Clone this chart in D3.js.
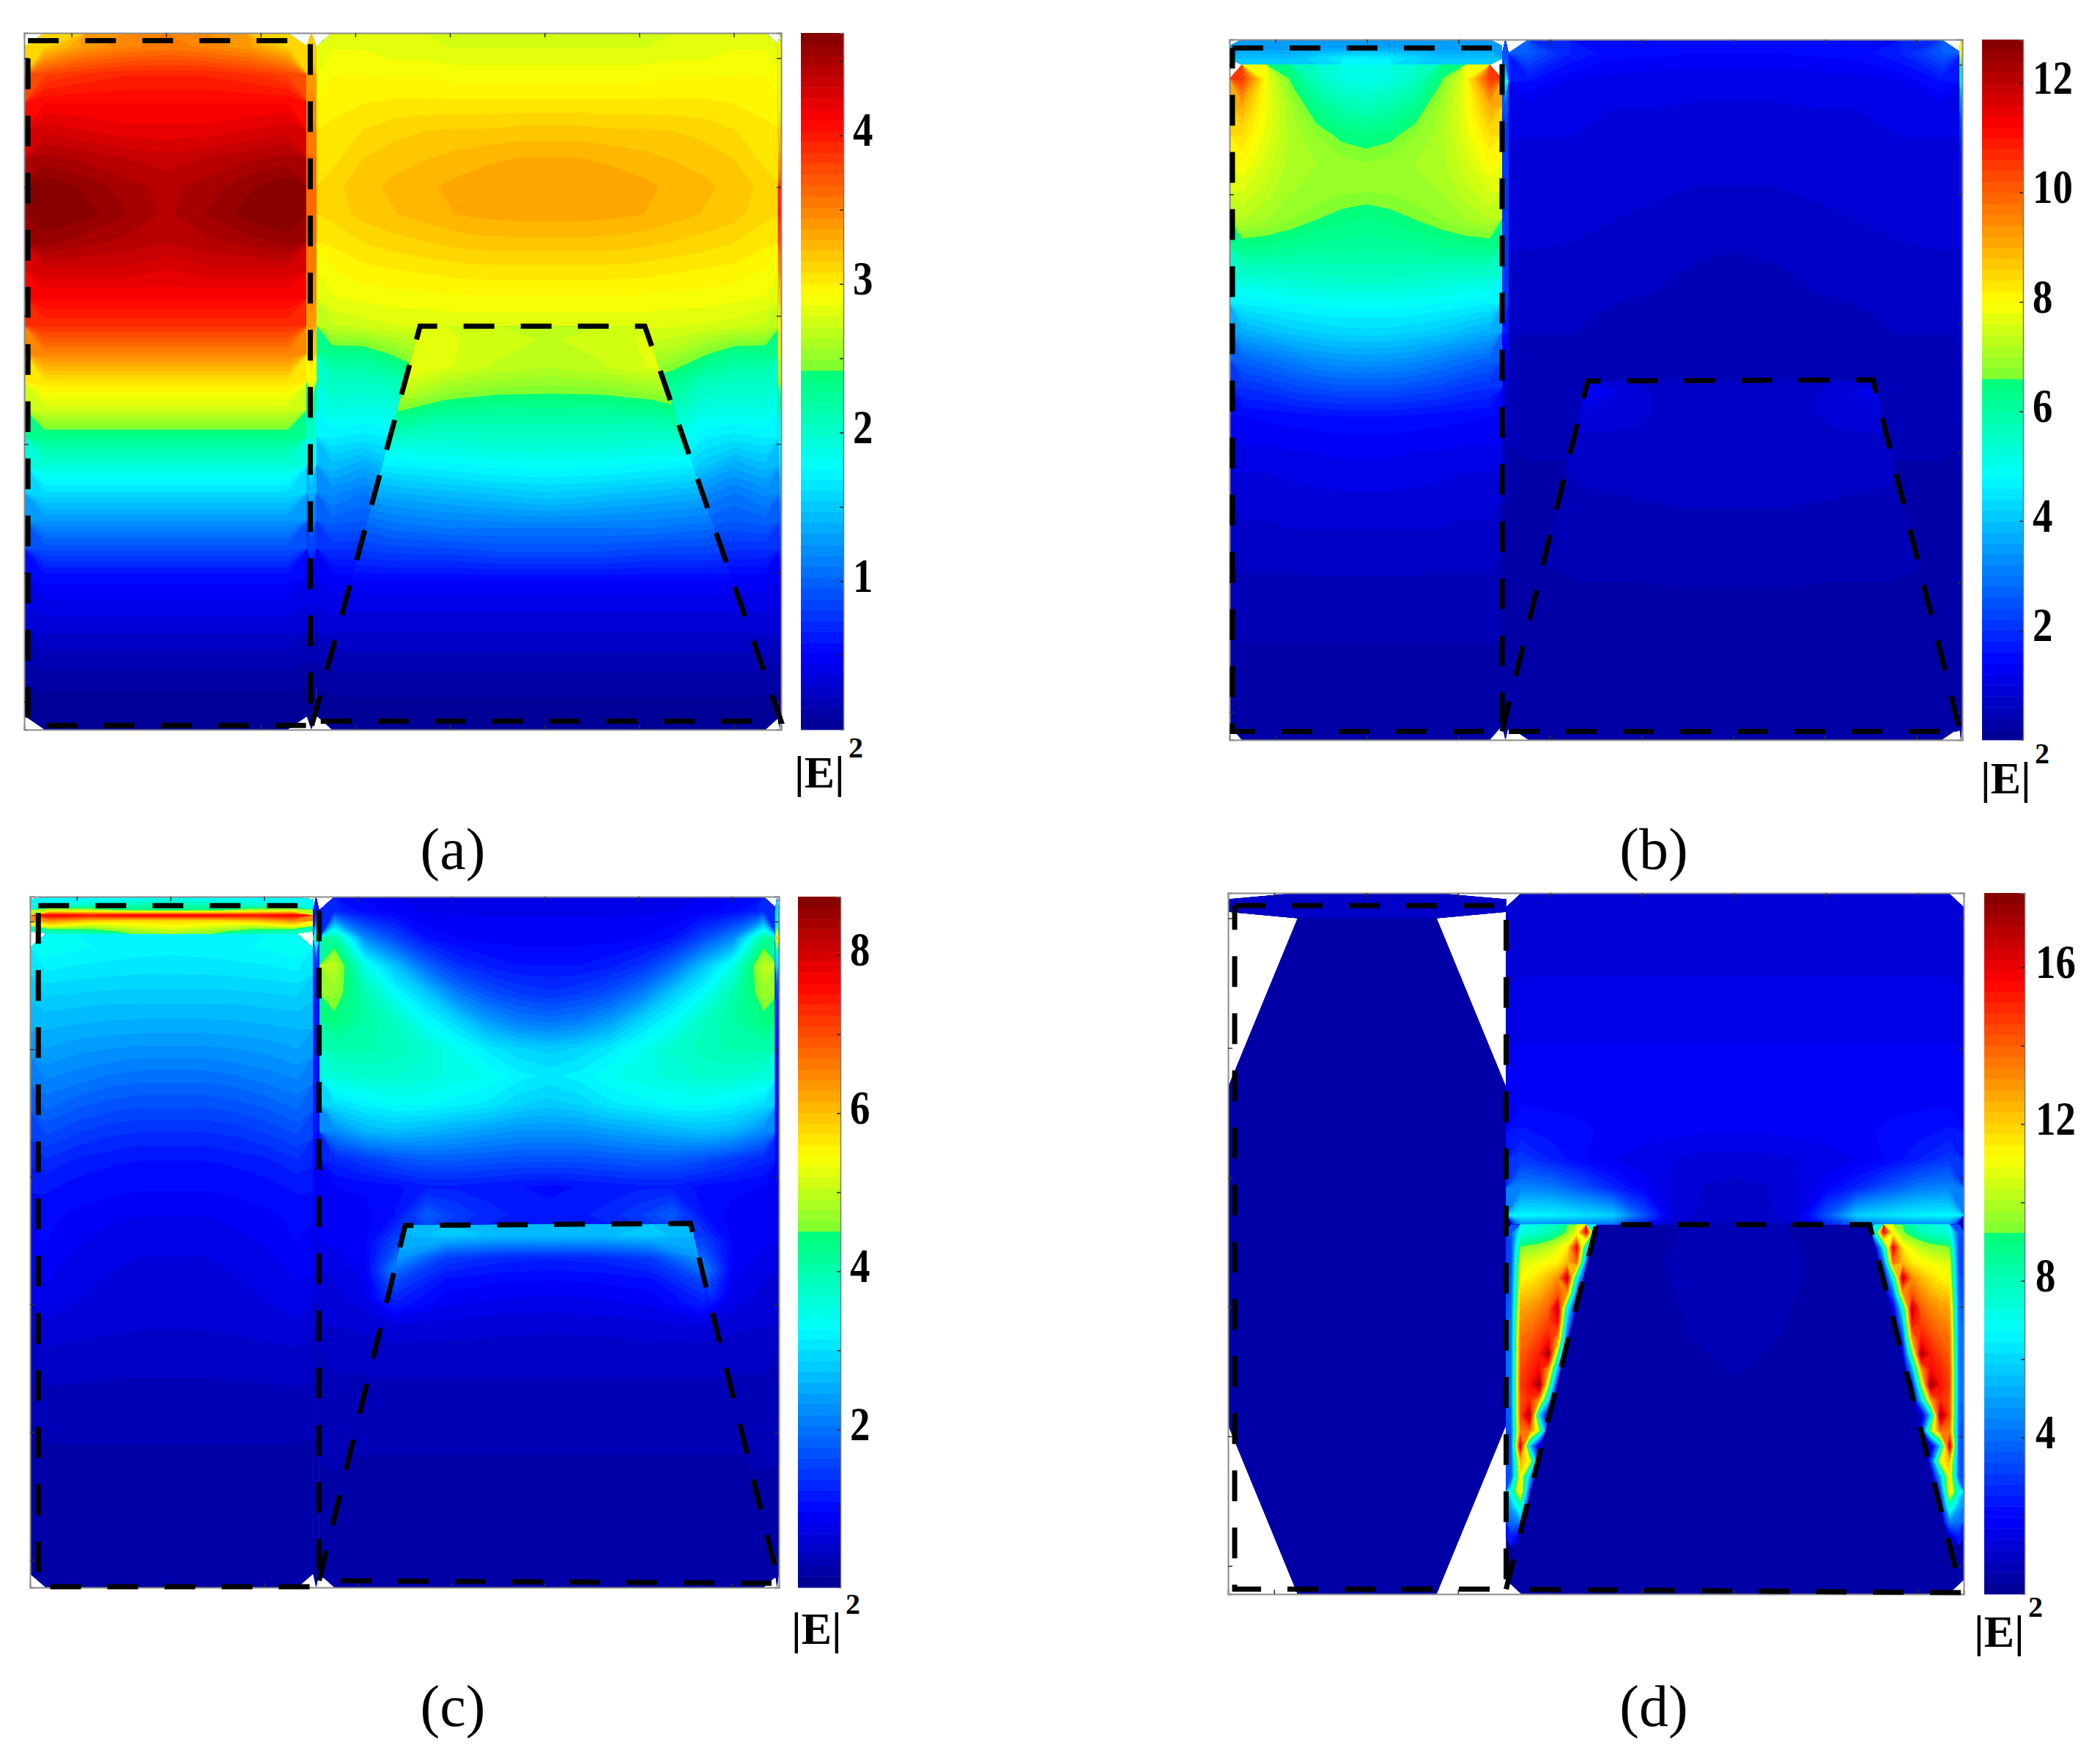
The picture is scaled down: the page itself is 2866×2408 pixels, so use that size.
<!DOCTYPE html>
<html>
<head>
<meta charset="utf-8">
<script src="https://d3js.org/d3.v7.min.js"></script>
<style>
  body { margin: 0; background: #fff; }
  text { font-family: "Liberation Serif", serif; }
</style>
</head>
<body>
<div id="chart"></div>
<script>
// |E|^2, row by row, top to bottom. Half of each symmetric field is kept.
const leftA = [[3.15,3.4,3.5,3.55],[3.8,3.9,3.95,3.95],[4.1,4.1,4.1,4.1],[4.3,4.25,4.2,4.2],[4.5,4.45,4.4,4.35],[4.68,4.6,4.5,4.45],[4.69,4.65,4.55,4.45],[4.58,4.5,4.45,4.4],[4.3,4.3,4.3,4.25],[4.12,4.12,4.12,4.12],[3.9,3.9,3.9,3.9],[3.5,3.5,3.5,3.5],[3.05,3.05,3.05,3.05],[2.75,2.75,2.75,2.75],[2.3,2.3,2.3,2.3],[1.95,1.95,1.95,1.95],[1.6,1.6,1.6,1.6],[1.25,1.25,1.25,1.25],[0.9,0.9,0.9,0.9],[0.55,0.55,0.55,0.55],[0.42,0.42,0.42,0.42],[0.3,0.3,0.3,0.3],[0.18,0.18,0.18,0.18],[0.08,0.08,0.08,0.08],[0.03,0.03,0.03,0.03]];
const outerA = [[2.85,2.85,2.8,2.8,2.78,2.78,2.78,2.78],[2.93,2.93,2.92,2.92,2.9,2.9,2.9,2.9],[2.98,3,3.02,3.02,3.02,3.02,3.02,3.02],[3.02,3.08,3.12,3.15,3.16,3.16,3.18,3.18],[3.05,3.15,3.2,3.22,3.25,3.28,3.3,3.3],[3.12,3.2,3.24,3.28,3.32,3.35,3.36,3.36],[3.1,3.18,3.22,3.26,3.3,3.32,3.33,3.33],[3.02,3.08,3.12,3.15,3.18,3.2,3.2,3.2],[2.93,2.98,3,3.02,3.04,3.05,3.05,3.05],[2.85,2.88,2.9,2.9,2.92,2.92,2.92,2.92],[2.7,2.75,2.78,2.8,2.8,2.8,2.8,2.8],[2.3,2.3,2.45,2.6,2.65,2.65,2.65,2.65],[2.05,2.05,2.1,2.3,2.4,2.4,2.4,2.4],[1.9,1.88,1.9,2.1,2.2,2.2,2.2,2.2],[1.7,1.65,1.7,1.9,2,2,2,2],[1.45,1.35,1.5,1.7,1.7,1.7,1.7,1.7],[1.2,1.1,1.2,1.4,1.4,1.4,1.4,1.4],[1,0.95,1,1.1,1.1,1.1,1.1,1.1],[0.75,0.75,0.8,0.85,0.85,0.85,0.85,0.85],[0.5,0.5,0.5,0.5,0.5,0.5,0.5,0.5],[0.4,0.4,0.4,0.4,0.4,0.4,0.4,0.4],[0.3,0.3,0.3,0.3,0.3,0.3,0.3,0.3],[0.2,0.2,0.2,0.2,0.2,0.2,0.2,0.2],[0.1,0.1,0.1,0.1,0.1,0.1,0.1,0.1],[0.04,0.04,0.04,0.04,0.04,0.04,0.04,0.04]];
const innerA = [[2.5,2.8,2.8,2.75,2.7],[2.4,2.9,2.8,2.7,2.65],[2.2,2.7,2.5,2.43,2.42],[2.1,2.3,2.15,2.15,2.15],[1.85,1.9,1.9,1.95,1.95],[1.5,1.6,1.65,1.7,1.72],[1.2,1.3,1.35,1.4,1.45],[0.95,1.05,1.1,1.1,1.1],[0.75,0.8,0.8,0.85,0.85],[0.5,0.5,0.5,0.5,0.5],[0.38,0.38,0.38,0.38,0.38],[0.28,0.28,0.28,0.28,0.28],[0.18,0.18,0.18,0.18,0.18],[0.09,0.09,0.09,0.09,0.09],[0.03,0.03,0.03,0.03,0.03]];
const wallA = [[3.2],[3.4],[3.5],[3.55],[3.6],[3.65],[3.65],[3.6],[3.55],[3.5],[3.4],[3.2],[2.9],[2.3],[2],[1.8],[1.4],[1.1],[0.85],[0.5],[0.4],[0.3],[0.18],[0.08],[0.03]];
const edgeA = [[3],[3],[3],[3.2],[3.4],[3.9],[4],[3.8],[3.5],[3.2],[3],[2.9],[2.7],[2.2],[1.9],[1.6],[1.3],[1],[0.8],[0.5],[0.4],[0.3],[0.18],[0.08],[0.03]];

const capB = [[3.5,3.4,3.4,3.4,3.4,3.4],[4,4,4,4.3,4.6,4.7]];
const leftB = [[10.5,7.8,6.5,5.6,5.2,5],[9,7.8,7,6.3,5.9,5.7],[8.4,7.7,7.1,6.8,6.5,6.4],[8,7.5,7.1,7,6.9,6.8],[7.6,7.3,7,6.95,6.85,6.8],[7.2,7,6.8,6.6,6.45,6.35],[6.3,6.3,6.2,6.1,6.1,6.05],[5.4,5.4,5.5,5.55,5.6,5.6],[4.6,4.7,4.8,4.85,4.9,4.9],[3.7,3.9,4.1,4.2,4.3,4.3],[2.7,2.9,3.1,3.3,3.4,3.45],[2,2.1,2.3,2.4,2.5,2.5],[1.4,1.45,1.5,1.55,1.6,1.6],[1.2,1.2,1.25,1.25,1.3,1.3],[1,1,1.05,1.05,1.1,1.1],[0.9,0.9,0.9,0.95,0.95,0.95],[0.75,0.75,0.8,0.8,0.8,0.8],[0.65,0.65,0.65,0.7,0.7,0.7],[0.55,0.55,0.55,0.55,0.55,0.55],[0.45,0.45,0.45,0.45,0.45,0.45],[0.4,0.4,0.4,0.4,0.4,0.4],[0.35,0.35,0.35,0.35,0.35,0.35],[0.3,0.3,0.3,0.3,0.3,0.3],[0.25,0.25,0.25,0.25,0.25,0.25]];
const outerB = [[2.6,1.8,1.5,1.45,1.4,1.4],[1.6,1.2,1.1,1.05,1.05,1.05],[1.1,1.05,1,1,0.98,0.98],[1,1,0.95,0.95,0.92,0.92],[0.95,0.92,0.9,0.88,0.85,0.85],[0.9,0.88,0.85,0.82,0.78,0.78],[0.85,0.85,0.8,0.75,0.72,0.7],[0.8,0.78,0.72,0.68,0.62,0.6],[0.7,0.7,0.65,0.62,0.58,0.58],[0.65,0.65,0.6,0.58,0.55,0.55],[0.6,0.6,0.58,0.55,0.55,0.55],[0.58,0.58,0.56,0.55,0.55,0.55],[0.55,0.52,0.52,0.52,0.52,0.52],[0.48,0.48,0.48,0.48,0.48,0.48],[0.42,0.42,0.42,0.42,0.42,0.42],[0.38,0.38,0.38,0.38,0.38,0.38],[0.36,0.36,0.36,0.36,0.36,0.36],[0.34,0.34,0.34,0.34,0.34,0.34],[0.32,0.32,0.32,0.32,0.32,0.32],[0.3,0.3,0.3,0.3,0.3,0.3],[0.29,0.29,0.29,0.29,0.29,0.29],[0.28,0.28,0.28,0.28,0.28,0.28],[0.27,0.27,0.27,0.27,0.27,0.27],[0.26,0.26,0.26,0.26,0.26,0.26],[0.25,0.25,0.25,0.25,0.25,0.25]];
const innerB = [[0.75,1.5,0.85,0.7,0.7],[0.7,1,0.85,0.72,0.7],[0.65,0.8,0.78,0.72,0.72],[0.6,0.68,0.7,0.72,0.72],[0.55,0.62,0.66,0.68,0.68],[0.5,0.58,0.6,0.62,0.62],[0.46,0.52,0.56,0.58,0.58],[0.42,0.48,0.5,0.52,0.52],[0.4,0.44,0.46,0.48,0.48],[0.38,0.4,0.4,0.42,0.42],[0.34,0.34,0.34,0.34,0.34],[0.32,0.32,0.32,0.32,0.32],[0.3,0.3,0.3,0.3,0.3],[0.28,0.28,0.28,0.28,0.28],[0.27,0.27,0.27,0.27,0.27],[0.26,0.26,0.26,0.26,0.26],[0.25,0.25,0.25,0.25,0.25]];
const wallB = [[2.4],[4.8],[2.5],[2.1],[2],[2],[2],[2],[2],[2],[1.6],[1.2],[0.9],[0.7],[0.55],[0.45],[0.4],[0.36],[0.34],[0.32],[0.3],[0.29],[0.28],[0.26],[0.25]];
const edgeB = [[8],[5],[3],[2],[1.7],[1.6],[1.5],[1.4],[1.3],[1.2],[1.1],[0.9],[0.7],[0.6],[0.5],[0.4],[0.36],[0.34],[0.32],[0.3],[0.29],[0.28],[0.27],[0.26],[0.25]];

const capC = [[3.2,3.3,3.4,3.5],[3.5,3.7,3.9,4],[5,4.8,4.4,4.4],[7.8,7.6,7.8,7.8],[6.5,6,5.8,5.8],[5.5,5,5.3,5.5],[3.9,4.2,4.7,5]];
const leftC = [[3.4,3.3,3.25,3.22,3.2],[3.1,3.05,3.02,3,3],[2.8,2.78,2.75,2.75,2.75],[2.6,2.55,2.52,2.5,2.5],[2.4,2.3,2.25,2.2,2.2],[2.15,2.05,1.95,1.9,1.9],[1.9,1.75,1.65,1.6,1.6],[1.6,1.45,1.35,1.3,1.3],[1.3,1.15,1.1,1.05,1.05],[1.1,1.02,0.98,0.95,0.95],[1,0.9,0.85,0.8,0.8],[0.95,0.82,0.75,0.7,0.7],[0.85,0.75,0.68,0.65,0.65],[0.75,0.68,0.62,0.6,0.6],[0.65,0.6,0.57,0.55,0.55],[0.5,0.48,0.46,0.45,0.45],[0.42,0.41,0.4,0.4,0.4],[0.32,0.31,0.3,0.3,0.3],[0.28,0.28,0.28,0.28,0.28],[0.25,0.25,0.25,0.25,0.25],[0.22,0.22,0.22,0.22,0.22],[0.2,0.2,0.2,0.2,0.2],[0.18,0.18,0.18,0.18,0.18],[0.15,0.15,0.15,0.15,0.15]];
const outerC = [[1.3,1,0.9,0.8,0.8,0.8,0.8,0.8],[4.2,2.2,1.6,1.1,0.95,0.9,0.9,0.9],[5,3.5,2.7,1.9,1.4,1.2,1.1,1.1],[4.7,4,3.3,2.8,2.1,1.7,1.5,1.4],[4.4,4.1,3.8,3.3,2.9,2.4,2.1,2],[4,4,3.9,3.7,3.4,3.1,2.9,2.8],[3.6,3.7,3.7,3.6,3.5,3.4,3.2,3.1],[3,3.2,3.3,3.3,3.2,3.1,2.9,2.8],[2.2,2.6,2.7,2.6,2.5,2.4,2.3,2.3],[1.3,1.5,1.7,1.8,1.8,1.75,1.7,1.7],[0.95,1,1.05,1.2,1.2,1.15,1.1,1.05],[0.9,0.9,1.1,1.8,1.5,1.3,1.2,1.15],[0.85,0.95,1.6,1.4,1.2,1.1,1.1,1.1],[0.7,0.9,2.2,1.2,1,1,1,1],[0.65,0.75,1.6,0.9,0.8,0.8,0.8,0.8],[0.55,0.6,0.7,0.6,0.6,0.6,0.6,0.6],[0.45,0.45,0.45,0.45,0.45,0.45,0.45,0.45],[0.4,0.4,0.4,0.4,0.4,0.4,0.4,0.4],[0.35,0.35,0.35,0.35,0.35,0.35,0.35,0.35],[0.3,0.3,0.3,0.3,0.3,0.3,0.3,0.3],[0.28,0.28,0.28,0.28,0.28,0.28,0.28,0.28],[0.25,0.25,0.25,0.25,0.25,0.25,0.25,0.25],[0.22,0.22,0.22,0.22,0.22,0.22,0.22,0.22],[0.2,0.2,0.2,0.2,0.2,0.2,0.2,0.2],[0.18,0.18,0.18,0.18,0.18,0.18,0.18,0.18]];
const innerC = [[0.9,2.6,2.8,2.7,2.7],[0.8,2.4,1.5,1.3,1.25],[0.75,1.6,1.05,0.98,0.95],[0.65,1.2,0.85,0.78,0.75],[0.55,0.65,0.62,0.6,0.58],[0.5,0.5,0.5,0.48,0.48],[0.42,0.42,0.42,0.42,0.42],[0.38,0.38,0.38,0.38,0.38],[0.34,0.34,0.34,0.34,0.34],[0.3,0.3,0.3,0.3,0.3],[0.26,0.26,0.26,0.26,0.26],[0.24,0.24,0.24,0.24,0.24],[0.22,0.22,0.22,0.22,0.22],[0.2,0.2,0.2,0.2,0.2],[0.19,0.19,0.19,0.19,0.19],[0.18,0.18,0.18,0.18,0.18]];
const wallC = [[1.2],[4],[1.4],[1.2],[1.2],[1.1],[1.1],[1.1],[1.1],[1],[0.9],[0.9],[0.8],[0.7],[0.6],[0.45],[0.4],[0.35],[0.3],[0.28],[0.25],[0.22],[0.2],[0.18],[0.18]];
const edgeC = [[3],[6],[3],[1.6],[1.2],[1],[1],[1],[1],[1],[0.95],[0.9],[0.85],[0.7],[0.65],[0.55],[0.45],[0.4],[0.35],[0.3],[0.28],[0.25],[0.22],[0.2],[0.18]];

const capD = [[1.1,1.1],[1,1]];
const leftD = [[0.42,0.42],[0.42,0.42]];
const outerD = [[1.3,1.3,1.3,1.3,1.3,1.3,1.3,1.3],[1.2,1.2,1.2,1.2,1.2,1.2,1.2,1.2],[1.3,1.3,1.3,1.3,1.3,1.3,1.3,1.3],[1.5,1.5,1.5,1.5,1.5,1.5,1.5,1.5],[1.6,1.6,1.6,1.6,1.6,1.6,1.6,1.6],[1.7,1.7,1.7,1.7,1.7,1.7,1.7,1.7],[1.8,1.8,1.8,1.8,1.8,1.8,1.8,1.8],[1.95,1.9,1.9,1.85,1.85,1.8,1.75,1.75],[2.3,2.1,2,1.9,1.85,1.8,1.7,1.7],[3,2.5,2,1.7,1.5,1.4,1.3,1.3],[4.4,4.2,3.5,2.6,1.9,1.3,1.1,1],[6.6,6.5,6.2,5.8,3.5,1.4,1,0.9],[0.5,0.5,0.5,0.5,0.5,0.5,0.5,0.5],[0.5,0.5,0.5,0.5,0.5,0.5,0.5,0.5],[0.5,0.5,0.5,0.5,0.5,0.5,0.5,0.5],[0.5,0.5,0.5,0.5,0.5,0.5,0.5,0.5],[0.5,0.5,0.5,0.5,0.5,0.5,0.5,0.5],[0.5,0.5,0.5,0.5,0.5,0.5,0.5,0.5],[0.5,0.5,0.5,0.5,0.5,0.5,0.5,0.5],[0.5,0.5,0.5,0.5,0.5,0.5,0.5,0.5],[0.5,0.5,0.5,0.5,0.5,0.5,0.5,0.5],[0.5,0.5,0.5,0.5,0.5,0.5,0.5,0.5],[0.5,0.5,0.5,0.5,0.5,0.5,0.5,0.5],[0.5,0.5,0.5,0.5,0.5,0.5,0.5,0.5],[0.5,0.5,0.5,0.5,0.5,0.5,0.5,0.5]];
const hotD = [[3.5,7.2,7.4,7.6,8,8.6,9.4,11,16,7],[3.2,9.4,9.6,9.8,10.2,10.8,11.5,16,7,0.8],[3.2,10.6,10.8,11,11.2,11.5,12.5,14,4,0.6],[3.4,11.2,11.4,11.8,12.4,13.2,16.8,7,1.5,0.5],[3.6,12,12.2,12.6,13.2,14.2,13,4,0.8,0.5],[3.8,12.8,13,13.4,14,16.8,7,1.5,0.5,0.5],[4,13.2,13.5,14,14.6,15.5,5,0.8,0.5,0.5],[4,13.8,14,14.6,15.4,13,3,0.6,0.5,0.5],[4,14,14.6,15.2,17.6,9,1.5,0.5,0.5,0.5],[4,14.4,15,15.6,13,5,0.8,0.5,0.5,0.5],[4,14.6,15.4,17.8,10,2,0.5,0.5,0.5,0.5],[4,14.4,15,13,6,1,0.5,0.5,0.5,0.5],[3.8,14.5,17.4,6,1,0.5,0.5,0.5,0.5,0.5],[3.6,13.6,14,10,2.5,0.6,0.5,0.5,0.5,0.5],[3.4,16.8,6,1,0.5,0.5,0.5,0.5,0.5,0.5],[3.4,12.6,11,3,0.6,0.5,0.5,0.5,0.5,0.5],[3.4,11.6,5.5,1,0.5,0.5,0.5,0.5,0.5,0.5],[7,12,3,0.6,0.5,0.5,0.5,0.5,0.5,0.5],[5,8,1.5,0.5,0.5,0.5,0.5,0.5,0.5,0.5],[4,4.5,0.8,0.5,0.5,0.5,0.5,0.5,0.5,0.5],[2.5,1.2,0.5,0.5,0.5,0.5,0.5,0.5,0.5,0.5]];
const innerD = [[0.5,0.5,0.5,0.6,0.8],[0.5,0.5,0.5,0.55,0.7],[0.45,0.45,0.45,0.45,0.45],[0.42,0.42,0.42,0.42,0.42],[0.42,0.42,0.42,0.42,0.42]];

// colour bars
const rangeA = [0, 4.69], ticksA = [0.5,1,1.5,2,2.5,3,3.5,4,4.5], labelsA = [1,2,3,4];
const rangeB = [0, 12.79], ticksB = [2,4,6,8,10,12], labelsB = [2,4,6,8,10,12];
const rangeC = [0, 8.74], ticksC = [1,2,3,4,5,6,7,8], labelsC = [2,4,6,8];
const rangeD = [0, 17.9], ticksD = [2,4,6,8,10,12,14,16], labelsD = [4,8,12,16];
const panelNames = ["(a)", "(b)", "(c)", "(d)"];

// dashed outlines, fractions of the plot box
const slabA = [[0.005,0.011],[0.378,0.011],[0.378,0.994],[0.005,0.994],[0.005,0.011]];
const trapA = [[0.38,0.994],[0.523,0.421],[0.82,0.421],[1,0.988],[0.38,0.988]];
const slabB = [[0.004,0.012],[0.372,0.012],[0.372,0.988],[0.004,0.988],[0.004,0.012]];
const trapB = [[0.372,0.988],[0.489,0.4875],[0.878,0.486],[0.997,0.988],[0.372,0.988]];
const slabC = [[0.011,0.013],[0.386,0.013],[0.386,0.999],[0.011,0.999],[0.011,0.013]];
const trapC = [[0.386,0.99],[0.501,0.476],[0.882,0.473],[1,0.994],[0.386,0.99]];
const slabD = [[0.009,0.018],[0.378,0.018],[0.378,0.993],[0.009,0.993],[0.009,0.018]];
const trapD = [[0.378,0.993],[0.501,0.473],[0.872,0.473],[0.997,0.998],[0.378,0.993]];

const xTicks = [0.0625,0.1875,0.3125,0.4375,0.5625,0.6875,0.8125,0.9375];
const yTicks = [0.036,0.221,0.406,0.59,0.775,0.96];

// jet, with the jump at the green the published bars show
const jet = d3.scaleLinear()
  .domain([0, 0.11, 0.375, 0.52, 0.52, 0.625, 0.875, 1])
  .range(["#00008f", "#0000ff", "#00ffff", "#00ff70", "#80ff30", "#ffff00", "#ff0000", "#800000"]);

const LEVELS = 64;
const mirror = grid => grid.map(r => r.concat(r.slice(0, -1).reverse()));
const flip = grid => grid.map(r => r.slice().reverse());

const panels = [
  { name: panelNames[0], box: {x0: 33, x1: 1066, y0: 45, y1: 996}, bar: {x0: 1093, x1: 1151},
    range: rangeA, ticks: ticksA, labels: labelsA, labelX: 1164, slab: slabA, trap: trapA,
    unit: {x: 1084, y: 1075}, nameAt: {x: 618, y: 1186},
    fields: [
      {grid: mirror(leftA), x: [0, 0.375], y: [0, 1]},
      {grid: mirror(outerA), x: [0.386, 1], y: [0, 1]},
      {grid: mirror(innerA), x: [0.386, 1], y: [0.421, 1], clip: true},
      {grid: wallA, x: [0.373, 0.386], y: [0, 1]},
      {grid: edgeA, x: [0.996, 1], y: [0, 1]}
    ] },
  { name: panelNames[1], box: {x0: 1678, x1: 2678, y0: 54, y1: 1010}, bar: {x0: 2705, x1: 2761},
    range: rangeB, ticks: ticksB, labels: labelsB, labelX: 2774, slab: slabB, trap: trapB,
    unit: {x: 2703, y: 1083}, nameAt: {x: 2257, y: 1186},
    fields: [
      {grid: mirror(capB), x: [0, 0.372], y: [0, 0.036]},
      {grid: mirror(leftB), x: [0, 0.372], y: [0.036, 1]},
      {grid: mirror(outerB), x: [0.38, 1], y: [0, 1]},
      {grid: mirror(innerB), x: [0.38, 1], y: [0.4875, 1], clip: true},
      {grid: wallB, x: [0.372, 0.381], y: [0, 1]},
      {grid: edgeB, x: [0.996, 1], y: [0, 1]}
    ] },
  { name: panelNames[2], box: {x0: 41, x1: 1063, y0: 1224, y1: 2167}, bar: {x0: 1089, x1: 1147},
    range: rangeC, ticks: ticksC, labels: labelsC, labelX: 1160, slab: slabC, trap: trapC,
    unit: {x: 1080, y: 2244}, nameAt: {x: 618, y: 2356},
    fields: [
      {grid: mirror(capC), x: [0, 0.378], y: [0, 0.054]},
      {grid: mirror(leftC), x: [0, 0.378], y: [0.054, 1]},
      {grid: mirror(outerC), x: [0.386, 1], y: [0, 1]},
      {grid: mirror(innerC), x: [0.386, 1], y: [0.474, 1], clip: true},
      {grid: wallC, x: [0.378, 0.386], y: [0, 1]},
      {grid: edgeC, x: [0.995, 1], y: [0, 1]}
    ] },
  { name: panelNames[3], box: {x0: 1676, x1: 2680, y0: 1219, y1: 2176}, bar: {x0: 2708, x1: 2763},
    range: rangeD, ticks: ticksD, labels: labelsD, labelX: 2778, slab: slabD, trap: trapD,
    unit: {x: 2694, y: 2248}, nameAt: {x: 2257, y: 2356},
    fields: [
      {grid: capD, x: [0, 0.378], y: [0, 0.036]},
      {grid: leftD, x: [0, 0.378], y: [0.036, 1]},
      {grid: mirror(outerD), x: [0.378, 1], y: [0, 1]},
      {grid: hotD, x: [0.378, 0.506], y: [0.473, 0.93]},
      {grid: flip(hotD), x: [0.872, 1], y: [0.473, 0.93]},
      {grid: mirror(innerD), x: [0.378, 1], y: [0.473, 1], clip: true}
    ] }
];

const svg = d3.select("#chart").append("svg")
  .attr("width", 2866)
  .attr("height", 2408);

panels.forEach((p, i) => drawPanel(p, i));

function drawPanel(p, i) {
  const g = svg.append("g");
  const x = d3.scaleLinear().domain([0, 1]).range([p.box.x0, p.box.x1]);
  const y = d3.scaleLinear().domain([0, 1]).range([p.box.y0, p.box.y1]);
  const level = d3.scaleLinear().domain([0, LEVELS]).range(p.range);
  const outline = d3.line().x(d => x(d[0])).y(d => y(d[1]));

  g.append("clipPath").attr("id", "trap" + i)
    .append("path").attr("d", outline(p.trap) + "Z");

  // filled bands, one colour per level of the bar
  const thresholds = d3.range(LEVELS).map(k => level(k));
  p.fields.forEach(f => {
    const n = f.grid[0].length, m = f.grid.length;
    const sx = d3.scaleLinear().domain([0, n]).range([x(f.x[0]), x(f.x[1])]);
    const sy = d3.scaleLinear().domain([0, m]).range([y(f.y[0]), y(f.y[1])]);
    const path = d3.geoPath(d3.geoTransform({
      point(a, b) { this.stream.point(sx(a), sy(b)); }
    }));
    const bands = d3.contours().size([n, m]).thresholds(thresholds)(f.grid.flat());
    g.append("g")
      .attr("clip-path", f.clip ? `url(#trap${i})` : null)
      .selectAll("path").data(bands).join("path")
      .attr("d", path)
      .attr("fill", (d, k) => jet((k + 0.5) / LEVELS));
  });

  // frame and inward ticks
  const frameStyle = a => {
    a.selectAll("path").attr("stroke", "#8a8a8a").attr("stroke-width", 2);
    a.selectAll("line").attr("stroke", "#333").attr("stroke-width", 1.5);
  };
  g.append("g").attr("transform", `translate(0,${p.box.y0})`)
    .call(d3.axisTop(x).tickValues(xTicks).tickSize(-6).tickFormat("")).call(frameStyle);
  g.append("g").attr("transform", `translate(0,${p.box.y1})`)
    .call(d3.axisBottom(x).tickValues(xTicks).tickSize(-6).tickFormat("")).call(frameStyle);
  g.append("g").attr("transform", `translate(${p.box.x0},0)`)
    .call(d3.axisLeft(y).tickValues(yTicks).tickSize(-6).tickFormat("")).call(frameStyle);
  g.append("g").attr("transform", `translate(${p.box.x1},0)`)
    .call(d3.axisRight(y).tickValues(yTicks).tickSize(-6).tickFormat("")).call(frameStyle);

  // dashed structure
  [p.slab, p.trap].forEach(line => {
    g.append("path")
      .attr("d", outline(line))
      .attr("fill", "none")
      .attr("stroke", "#000")
      .attr("stroke-width", 7)
      .attr("stroke-dasharray", "42 36");
  });

  // colour bar
  const bar = d3.scaleLinear().domain(p.range).range([p.box.y1, p.box.y0]);
  g.append("g").selectAll("rect").data(d3.range(LEVELS)).join("rect")
    .attr("x", p.bar.x0)
    .attr("width", p.bar.x1 - p.bar.x0)
    .attr("y", k => bar(level(k + 1)))
    .attr("height", k => bar(level(k)) - bar(level(k + 1)) + 0.5)
    .attr("fill", k => jet((k + 0.5) / LEVELS));

  const barAxis = g.append("g").attr("transform", `translate(${p.bar.x1},0)`)
    .call(d3.axisRight(bar).tickValues(p.ticks).tickSize(-5)
      .tickFormat(d => p.labels.includes(d) ? d : ""));
  barAxis.selectAll("path").attr("stroke", "#777").attr("stroke-width", 1.5);
  barAxis.selectAll("line").attr("stroke", "#222").attr("stroke-width", 1.5);
  barAxis.selectAll("text")
    .attr("x", null).attr("dy", null)
    .attr("text-anchor", "start")
    .attr("fill", "#000")
    .style("font-family", '"Liberation Serif", serif')
    .style("font-size", "66px")
    .style("font-weight", "bold")
    .attr("transform", `translate(${p.labelX - p.bar.x1},14) scale(0.83,1)`);

  // unit label
  g.append("text").attr("x", p.unit.x).attr("y", p.unit.y)
    .style("font-size", "62px").style("font-weight", "bold").text("|E|");
  g.append("text").attr("x", p.unit.x + 74).attr("y", p.unit.y - 41)
    .style("font-size", "40px").style("font-weight", "bold").text("2");

  // panel name
  g.append("text").attr("x", p.nameAt.x).attr("y", p.nameAt.y)
    .attr("text-anchor", "middle")
    .style("font-size", "80px").text(p.name);
}
</script>
</body>
</html>
